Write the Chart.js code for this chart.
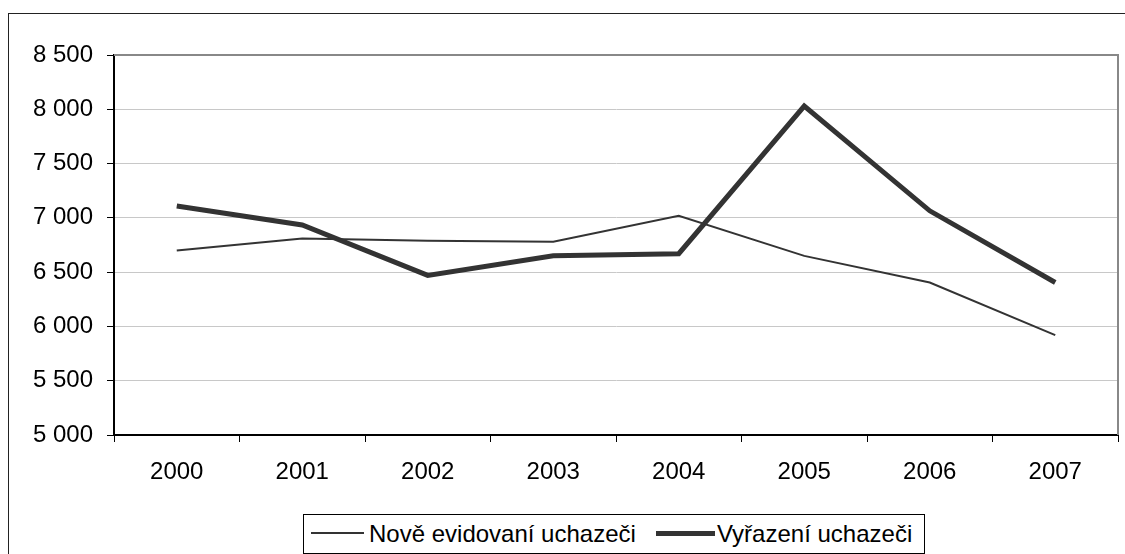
<!DOCTYPE html>
<html>
<head>
<meta charset="utf-8">
<script src="https://cdn.jsdelivr.net/npm/chart.js@4.4.1/dist/chart.umd.min.js"></script>
<style>
  html, body { margin: 0; padding: 0; background: #fff; }
  #wrap { position: relative; width: 1125px; height: 554px; overflow: hidden; font-family: "Liberation Sans", Arial, sans-serif; }
  #frame { position: absolute; left: 8px; top: 13px; width: 1200px; height: 600px; border-left: 1px solid #222; border-top: 1px solid #222; box-sizing: border-box; }
  #c { position: absolute; left: 0; top: 0; }
  #legend { position: absolute; left: 303px; top: 514px; width: 622px; height: 40px; border: 1px solid #000; box-sizing: border-box; background: #fff; }
  .ln { position: absolute; background: #333; }
  .lt { position: absolute; top: 0; font-size: 24px; line-height: 38px; color: #000; white-space: nowrap; }
</style>
</head>
<body>
<div id="wrap">
  <div id="frame"></div>
  <canvas id="c" width="1125" height="554"></canvas>
  <div id="legend"></div>
</div>
<script>
const categories = ["2000", "2001", "2002", "2003", "2004", "2005", "2006", "2007"];
const noveEvidovani = [6700, 6810, 6790, 6780, 7020, 6650, 6405, 5920];
const vyrazeni = [7110, 6935, 6470, 6650, 6670, 8030, 7065, 6405];
const seriesNames = ["Nově evidovaní uchazeči", "Vyřazení uchazeči"];
const yTicks = [5000, 5500, 6000, 6500, 7000, 7500, 8000, 8500];

function fmt(v) { return String(v).replace(/\B(?=(\d{3})+(?!\d))/g, " "); }

const framePlugin = {
  id: 'framePlugin',
  afterDraw(chart) {
    const a = chart.chartArea, ctx = chart.ctx;
    ctx.save();
    ctx.strokeStyle = '#888';
    ctx.lineWidth = 2;
    ctx.beginPath();
    ctx.moveTo(a.left, a.top);
    ctx.lineTo(a.right, a.top);
    ctx.lineTo(a.right, a.bottom);
    ctx.stroke();
    ctx.restore();
  }
};

new Chart(document.getElementById('c'), {
  type: 'line',
  data: {
    labels: categories,
    datasets: [
      { label: seriesNames[0], data: noveEvidovani, borderColor: '#333', borderWidth: 2, pointRadius: 0, tension: 0, fill: false },
      { label: seriesNames[1], data: vyrazeni, borderColor: '#333', borderWidth: 5, pointRadius: 0, tension: 0, fill: false, borderJoinStyle: 'miter' }
    ]
  },
  options: {
    responsive: false,
    animation: false,
    devicePixelRatio: 1,
    layout: { padding: { top: 55, right: 7, left: 0, bottom: 69 } },
    plugins: { legend: { display: false }, tooltip: { enabled: false } },
    scales: {
      x: {
        offset: true,
        grid: { offset: true, drawOnChartArea: false, drawTicks: true, tickLength: 7, tickColor: '#000' },
        border: { color: '#000', width: 2 },
        ticks: { color: '#000', font: { family: 'Liberation Sans', size: 24 }, padding: 16, maxRotation: 0 },
        afterFit(s) { s.height = 50; }
      },
      y: {
        min: 5000, max: 8500,
        afterBuildTicks(s) { s.ticks = yTicks.map(v => ({ value: v })); },
        grid: { color: '#c8c8c8', lineWidth: 1, tickLength: 7, tickColor: '#000' },
        border: { color: '#000', width: 2 },
        ticks: { color: '#000', font: { family: 'Liberation Sans', size: 24 }, padding: 14, callback: v => fmt(v) },
        afterFit(s) { s.width = 114; }
      }
    }
  },
  plugins: [framePlugin]
});

// legend (HTML, built from series names)
const lg = document.getElementById('legend');
const items = [
  { name: seriesNames[0], lineLeft: 7, lineW: 53, lineH: 2, textLeft: 65 },
  { name: seriesNames[1], lineLeft: 352, lineW: 59, lineH: 5, textLeft: 413 }
];
items.forEach(it => {
  const l = document.createElement('div');
  l.className = 'ln';
  l.style.left = it.lineLeft + 'px';
  l.style.width = it.lineW + 'px';
  l.style.height = it.lineH + 'px';
  l.style.top = (18 - it.lineH / 2) + 'px';
  lg.appendChild(l);
  const t = document.createElement('div');
  t.className = 'lt';
  t.style.left = it.textLeft + 'px';
  t.textContent = it.name;
  lg.appendChild(t);
});
</script>
</body>
</html>
